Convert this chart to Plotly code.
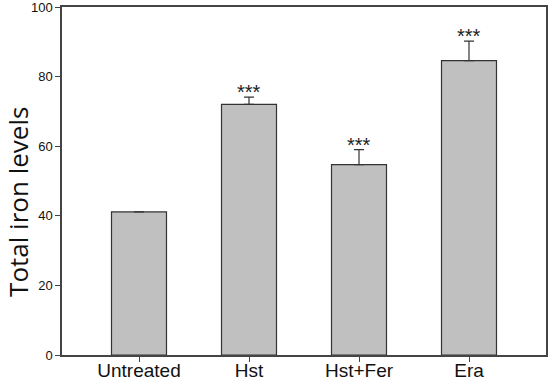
import plotly.graph_objects as go

categories = ["Untreated", "Hst", "Hst+Fer", "Era"]
values = [41.1, 72.0, 54.7, 84.6]
errors = [0.0, 2.1, 4.3, 5.6]
signif = ["", "***", "***", "***"]

err_plus = [e if e > 0 else None for e in errors]

fig = go.Figure()
fig.add_trace(go.Bar(
    x=categories, y=values, width=0.5,
    marker=dict(color="#c0c0c0", line=dict(color="#333333", width=1.2)),
    error_y=dict(type="data", symmetric=False, array=err_plus, arrayminus=[0]*len(errors),
                 color="#333333", thickness=1.2, width=5, visible=True),
))
for c, v, e, s in zip(categories, values, errors, signif):
    if s:
        fig.add_annotation(x=c, y=v + e, text=s, showarrow=False, yanchor="bottom",
                           yshift=-8, font=dict(family="Liberation Sans, Arial", size=20, color="#222"))

fig.add_annotation(xref="paper", yref="paper", x=0, y=0.44, xanchor="center", yanchor="middle",
                   xshift=-44, textangle=-90, showarrow=False, text="Total iron levels",
                   font=dict(family="Open Sans", size=26, color="#111"))

fig.update_layout(
    width=551, height=380, margin=dict(l=62, r=5, t=7, b=25),
    paper_bgcolor="white", plot_bgcolor="white", showlegend=False,
    xaxis=dict(range=[-0.7, 3.7], showline=True, linecolor="#444", linewidth=1.5, mirror=True,
               ticks="outside", ticklen=5, tickcolor="#444", automargin=False,
               ticklabelstandoff=-8,
               tickfont=dict(family="Liberation Sans, Arial", size=19, color="#111")),
    yaxis=dict(range=[0, 100], dtick=20, showline=True, linecolor="#444", linewidth=1.5, mirror=True,
               ticks="outside", ticklen=5, tickcolor="#444", showgrid=False, zeroline=False,
               automargin=False, ticklabeloverflow="allow",
               tickfont=dict(family="Liberation Sans, Arial", size=13, color="#111")),
)
fig.write_html("out.html")
